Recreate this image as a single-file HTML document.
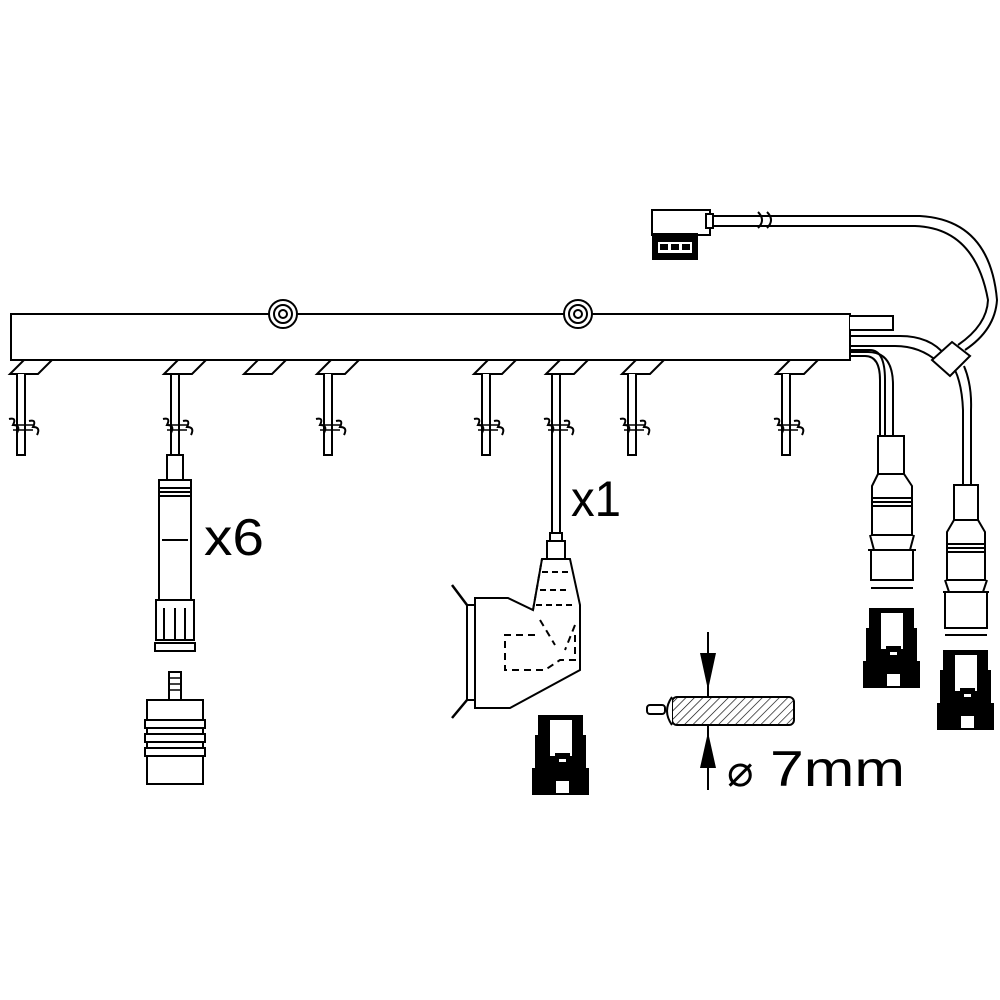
<!DOCTYPE html>
<html><head><style>html,body{margin:0;padding:0;background:#fff}svg{display:block}</style></head>
<body>
<svg width="1000" height="1000" viewBox="0 0 1000 1000" xmlns="http://www.w3.org/2000/svg">
<defs>
<g id="cap">
<path d="M5,0 H50 V20 H53 V53 H56 V80 H-1 V53 H2 V20 H5 Z" fill="#000"/>
<rect x="17" y="5" width="22" height="36" fill="#fff"/>
<rect x="22" y="38" width="15" height="32" fill="#000"/>
<rect x="26" y="44" width="7" height="3" fill="#fff"/>
<rect x="23" y="66" width="13" height="12" fill="#fff"/>
</g>
<g id="foot" fill="none" stroke="#000" stroke-width="2">
<path d="M18,360 L4,374 H32 L46,360"/>
</g>
<g id="brk" fill="none" stroke="#000" stroke-width="2">
<path d="M-12,419 q8,-2 4,6 q8,0 4,8 M8,421 q8,-2 4,6 q8,0 4,8"/>
<path d="M-8,425 H12 M-8,430 H12" stroke-width="1.5"/>
</g>
<g id="tube" fill="#fff" stroke="#000" stroke-width="2">
<path d="M-4,374 V455 H4 V374"/>
<use href="#brk"/>
</g>
<pattern id="hatch" width="6" height="6" patternUnits="userSpaceOnUse" patternTransform="rotate(45)">
<line x1="0" y1="0" x2="0" y2="6" stroke="#000" stroke-width="1.3"/>
</pattern>
</defs>
<g fill="none" stroke="#000" stroke-width="2">
<rect x="11" y="314" width="839" height="46" fill="#fff"/>
<circle cx="283" cy="314" r="14" fill="#fff"/><circle cx="283" cy="314" r="9"/><circle cx="283" cy="314" r="4"/>
<circle cx="578" cy="314" r="14" fill="#fff"/><circle cx="578" cy="314" r="9"/><circle cx="578" cy="314" r="4"/>
</g>
<use href="#foot" x="6"/><use href="#foot" x="160"/><use href="#foot" x="240"/><use href="#foot" x="313"/>
<use href="#foot" x="470"/><use href="#foot" x="542"/><use href="#foot" x="618"/><use href="#foot" x="772"/>
<use href="#tube" x="21"/><use href="#tube" x="328"/><use href="#tube" x="486"/><use href="#tube" x="632"/><use href="#tube" x="786"/>
<g fill="#fff" stroke="#000" stroke-width="2">
<path d="M171,374 V455 M179,374 V455"/>
<use href="#brk" x="175"/>
<rect x="167" y="455" width="16" height="25"/>
<rect x="159" y="480" width="32" height="120"/>
<path d="M159,488 H191 M159,492 H191 M159,496 H191 M162,540 H188" fill="none"/>
<rect x="156" y="600" width="38" height="40"/>
<path d="M164,608 V640 M175,608 V640 M185,608 V640" fill="none"/>
<rect x="155" y="643" width="40" height="8"/>
<rect x="169" y="672" width="12" height="28"/>
<path d="M170,678 H180 M170,684 H180 M170,690 H180" fill="none" stroke-width="1.5"/>
<rect x="147" y="700" width="56" height="20"/>
<rect x="145" y="720" width="60" height="8"/><rect x="147" y="728" width="56" height="6"/>
<rect x="145" y="734" width="60" height="8"/><rect x="147" y="742" width="56" height="6"/>
<rect x="145" y="748" width="60" height="8"/><rect x="147" y="756" width="56" height="28"/>
<path d="M552,374 V535 M560,374 V535"/>
<use href="#brk" x="556"/>
<rect x="550" y="533" width="12" height="8"/>
<rect x="547" y="541" width="18" height="18"/>
<path d="M542,559 H570 L580,605 V670 L510,708 H475 V598 H508 L533,610 Z"/>
<path d="M467,605 V700 H475 M467,605 H475" fill="none"/>
<path d="M467,605 L452,585 M467,700 L452,718" fill="none" stroke-width="2.5"/>
<path d="M533,610 L542,559 M542,572 H570 M540,590 H568 M536,605 H576" fill="none" stroke-dasharray="6,4"/>
<path d="M535,635 H505 V670 H545 L560,660 H575 V633 M540,620 L555,645 M575,625 L565,650" fill="none" stroke-dasharray="7,5"/>
<path d="M850,316 H893 V330 H850" />
<path d="M850,336 H900 Q930,336 945,355 M850,346 H895 Q920,346 938,362" fill="none"/>
<path d="M850,350 H870 Q885,350 885,380 V436 M850,356 H865 Q880,356 880,380 V436" fill="none"/>
<path d="M850,352 H868 Q893,352 893,385 V436" fill="none"/>
<rect x="878" y="436" width="26" height="38"/>
<path d="M878,474 L872,486 V535 H912 V486 L904,474 Z"/>
<path d="M872,498 H912 M872,502 H912 M872,506 H912" fill="none"/>
<path d="M870,535 L874,550 H910 L914,535 M868,550 H916 M871,550 V580 H913 V550 M871,580 H913 M871,588 H913" fill="none"/>
<path d="M932,360 L952,342 L970,356 L950,376 Z"/>
<path d="M955,370 Q962,385 963,410 V485 M964,366 Q972,385 971,410 V485" fill="none"/>
<rect x="954" y="485" width="24" height="35"/>
<path d="M954,520 L947,532 V580 H985 V532 L978,520 Z"/>
<path d="M947,544 H985 M947,548 H985 M947,552 H985" fill="none"/>
<path d="M945,580 L949,592 H983 L987,580 M943,592 H989 M945,592 V628 H987 V592 M945,628 H987 M945,635 H987" fill="none"/>
<path d="M712,216 H920 Q990,220 997,300 Q995,330 965,350 M712,226 H915 Q975,228 988,300 Q987,325 958,345" fill="none"/>
<path d="M758,212 q8,8 0,16 M767,212 q8,8 0,16" fill="none"/>
<rect x="652" y="210" width="58" height="25"/>
<rect x="706" y="214" width="7" height="14"/>
</g>
<rect x="652" y="233" width="46" height="27" fill="#000"/>
<rect x="658" y="242" width="34" height="11" fill="#fff"/>
<rect x="660" y="244" width="8" height="6" fill="#000"/><rect x="671" y="244" width="8" height="6" fill="#000"/><rect x="682" y="244" width="8" height="6" fill="#000"/>
<use href="#cap" x="533" y="715"/>
<use href="#cap" x="864" y="608"/>
<use href="#cap" x="938" y="650"/>
<g stroke="#000" stroke-width="2">
<rect x="672" y="697" width="122" height="28" rx="5" fill="url(#hatch)"/>
<path d="M672,697 Q662,711 672,725" fill="#fff"/>
<rect x="647" y="705" width="18" height="9" rx="3" fill="#fff"/>
<line x1="708" y1="632" x2="708" y2="697"/>
<line x1="708" y1="725" x2="708" y2="790"/>
</g>
<path d="M700,653 H716 L708,690 Z M700,768 H716 L708,732 Z" fill="#000"/>
<g font-family="'Liberation Sans', sans-serif" fill="#000">
<text x="204" y="555" font-size="52" textLength="60" lengthAdjust="spacingAndGlyphs">x6</text>
<text x="571" y="516" font-size="50" textLength="50" lengthAdjust="spacingAndGlyphs">x1</text>
<text x="727" y="786" font-size="44">⌀</text>
<text x="770" y="786" font-size="50" textLength="135" lengthAdjust="spacingAndGlyphs">7mm</text>
</g>
</svg>
</body></html>
